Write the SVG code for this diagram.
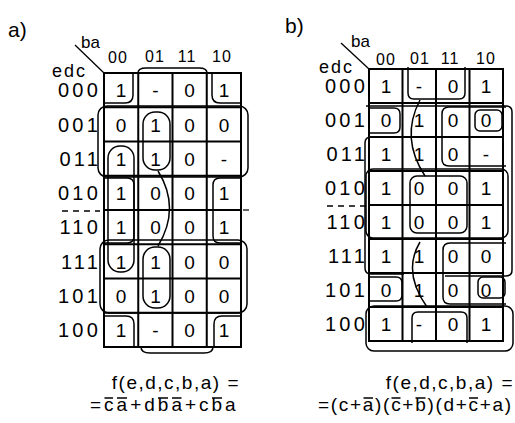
<svg xmlns="http://www.w3.org/2000/svg" width="515" height="423" viewBox="0 0 515 423">
<style>
text{font-family:"Liberation Sans",Arial,sans-serif;fill:#000}
.grid{fill:none;stroke:#000;stroke-width:2}
.loop{fill:none;stroke:#000;stroke-width:1.5}
.cell{font-size:19px;text-anchor:middle}
.rl{font-size:20px;text-anchor:end;letter-spacing:3.2px}
.hd{font-size:16px;text-anchor:middle;letter-spacing:1px}
.big{font-size:21px}
.fx{font-size:19px}
.bar{stroke:#000;stroke-width:1.4}
.dash{stroke:#000;stroke-width:1.3;stroke-dasharray:6 5}
</style>
<rect width="515" height="423" fill="#fff"/>

<g id="map-a">
  <text class="big" x="8" y="37">a)</text>
  <text x="81" y="48" font-size="17">ba</text>
  <text x="52" y="77" font-size="18" letter-spacing="2">edc</text>
  <line x1="75" y1="45" x2="104" y2="73" stroke="#000" stroke-width="1.3"/>
  <text class="hd" x="118" y="63">00</text>
  <text class="hd" x="155" y="62">01</text>
  <text class="hd" x="187" y="62">11</text>
  <text class="hd" x="222" y="62">10</text>
  <g class="grid">
    <rect x="104" y="73" width="137" height="274"/>
    <path d="M138.25,73V347M172.5,73V347M206.75,73V347M104,107.25H241M104,141.5H241M104,175.75H241M104,210H241M104,244.25H241M104,278.5H241M104,312.75H241"/>
  </g>
  <text class="rl" x="101" y="97">000</text>
  <text class="rl" x="101" y="132">001</text>
  <text class="rl" x="101" y="166">011</text>
  <text class="rl" x="101" y="200">010</text>
  <text class="rl" x="101" y="234">110</text>
  <text class="rl" x="101" y="269">111</text>
  <text class="rl" x="101" y="303">101</text>
  <text class="rl" x="101" y="337">100</text>
  <line class="dash" x1="62" y1="211" x2="100" y2="211"/>
  <line x1="243" y1="210" x2="249" y2="210" stroke="#000" stroke-width="1.2"/>
  <g class="cell">
    <text x="121" y="97">1</text><text x="155.5" y="97">-</text><text x="189.5" y="97">0</text><text x="224" y="97">1</text>
    <text x="121" y="131.5">0</text><text x="155.5" y="131.5">1</text><text x="189.5" y="131.5">0</text><text x="224" y="131.5">0</text>
    <text x="121" y="165.5">1</text><text x="155.5" y="165.5">1</text><text x="189.5" y="165.5">0</text><text x="224" y="165.5">-</text>
    <text x="121" y="200">1</text><text x="155.5" y="200">0</text><text x="189.5" y="200">0</text><text x="224" y="200">1</text>
    <text x="121" y="234">1</text><text x="155.5" y="234">0</text><text x="189.5" y="234">0</text><text x="224" y="234">1</text>
    <text x="121" y="268.5">1</text><text x="155.5" y="268.5">1</text><text x="189.5" y="268.5">0</text><text x="224" y="268.5">0</text>
    <text x="121" y="302.5">0</text><text x="155.5" y="302.5">1</text><text x="189.5" y="302.5">0</text><text x="224" y="302.5">0</text>
    <text x="121" y="337">1</text><text x="155.5" y="337">-</text><text x="189.5" y="337">0</text><text x="224" y="337">1</text>
  </g>
  <text class="fx" x="240" y="389" text-anchor="end" letter-spacing="1.5">f(e,d,c,b,a) =</text>
  <text class="fx" x="90" y="411" letter-spacing="3">=ca+dba+cba</text>
  <path class="bar" d="M104.5,398H113M117,398H127M158,398H168M172,398H181.5M212,398H222"/>
</g>

<g id="map-b">
  <text class="big" x="285" y="33">b)</text>
  <text x="351" y="47" font-size="17">ba</text>
  <text x="319" y="73" font-size="18" letter-spacing="2">edc</text>
  <line x1="341" y1="43" x2="369" y2="69" stroke="#000" stroke-width="1.3"/>
  <text class="hd" x="386" y="65">00</text>
  <text class="hd" x="420" y="64">01</text>
  <text class="hd" x="450" y="64">11</text>
  <text class="hd" x="486" y="64">10</text>
  <g class="grid">
    <rect x="369" y="69" width="134" height="272"/>
    <path d="M402.5,69V341M436,69V341M469.5,69V341M369,103H503M369,137H503M369,171H503M369,205H503M369,239H503M369,273H503M369,307H503"/>
  </g>
  <text class="rl" x="368" y="93">000</text>
  <text class="rl" x="368" y="127">001</text>
  <text class="rl" x="368" y="161">011</text>
  <text class="rl" x="368" y="195">010</text>
  <text class="rl" x="368" y="229">110</text>
  <text class="rl" x="368" y="263">111</text>
  <text class="rl" x="368" y="297">101</text>
  <text class="rl" x="368" y="331">100</text>
  <line class="dash" x1="327" y1="206" x2="366" y2="206"/>
  <g class="cell">
    <text x="386" y="93">1</text><text x="419" y="93">-</text><text x="453" y="93">0</text><text x="486" y="93">1</text>
    <text x="386" y="127">0</text><text x="419" y="127">1</text><text x="453" y="127">0</text><text x="486" y="127">0</text>
    <text x="386" y="161">1</text><text x="419" y="161">1</text><text x="453" y="161">0</text><text x="486" y="161">-</text>
    <text x="386" y="195">1</text><text x="419" y="195">0</text><text x="453" y="195">0</text><text x="486" y="195">1</text>
    <text x="386" y="229">1</text><text x="419" y="229">0</text><text x="453" y="229">0</text><text x="486" y="229">1</text>
    <text x="386" y="263">1</text><text x="419" y="263">1</text><text x="453" y="263">0</text><text x="486" y="263">0</text>
    <text x="386" y="297">0</text><text x="419" y="297">1</text><text x="453" y="297">0</text><text x="486" y="297">0</text>
    <text x="386" y="331">1</text><text x="419" y="331">-</text><text x="453" y="331">0</text><text x="486" y="331">1</text>
  </g>
  <text class="fx" x="514" y="389" text-anchor="end" letter-spacing="1.5">f(e,d,c,b,a) =</text>
  <text class="fx" x="318" y="411" letter-spacing="1.7">=(c+a)(c+b)(d+c+a)</text>
  <path class="bar" d="M363.5,398H373M391.5,398H400.5M415.5,398H425.5M469,398H478"/>
</g>

<g id="loops" class="loop">
  <path d="M133,73V95Q133,103 125,103H104"/>
  <path d="M212,73V95Q212,103 220,103H241"/>
  <path d="M104,316H126Q134,316 134,324V347"/>
  <path d="M241,316H222Q214,316 214,324V347"/>
  <path d="M138,73Q138,68 146,68H199Q207,68 207,73"/>
  <path d="M141,347Q141,353 150,353H204Q213,353 213,347"/>
  <rect x="98" y="106" width="150" height="71" rx="9"/>
  <rect x="100" y="240" width="147" height="73" rx="9"/>
  <rect x="143" y="112" width="27" height="58" rx="12"/>
  <rect x="143" y="247" width="27" height="61" rx="12"/>
  <rect x="108" y="146" width="26" height="126" rx="12"/>
  <path d="M104,178H127Q134,178 134,185V236Q134,243 127,243H104"/>
  <path d="M241,178H220Q213,178 213,185V236Q213,243 220,243H241"/>
  <path d="M158,171Q181,208 158,246"/>
  <path d="M408,67V93Q408,99 414,99H459Q465,99 465,93V67"/>
  <rect x="410" y="176" width="57" height="57" rx="7"/>
  <path d="M412,343V318Q412,312 418,312H461Q467,312 467,318V343"/>
  <path d="M506,107H449Q442,107 442,114V159Q442,166 449,166H506"/>
  <path d="M506,243H450Q443,243 443,250V297Q443,304 450,304H506"/>
  <rect x="475" y="110" width="27" height="21" rx="5"/>
  <rect x="478" y="277" width="27" height="21" rx="5"/>
  <path d="M369,108H394Q400,108 400,114V127Q400,133 394,133H369"/>
  <path d="M370,277H396Q402,277 402,283V295Q402,301 396,301H370"/>
  <path d="M366,106H506Q512,106 512,112V270Q512,276 506,276H445"/>
  <path d="M404,137H371Q365,137 365,143V268Q365,274 371,274H404"/>
  <rect x="366" y="169" width="142" height="69" rx="7"/>
  <rect x="366" y="306" width="147" height="45" rx="8"/>
  <path d="M420,100Q400,138 425,176"/>
  <path d="M420,242Q402,272 427,307"/>
</g>
</svg>
